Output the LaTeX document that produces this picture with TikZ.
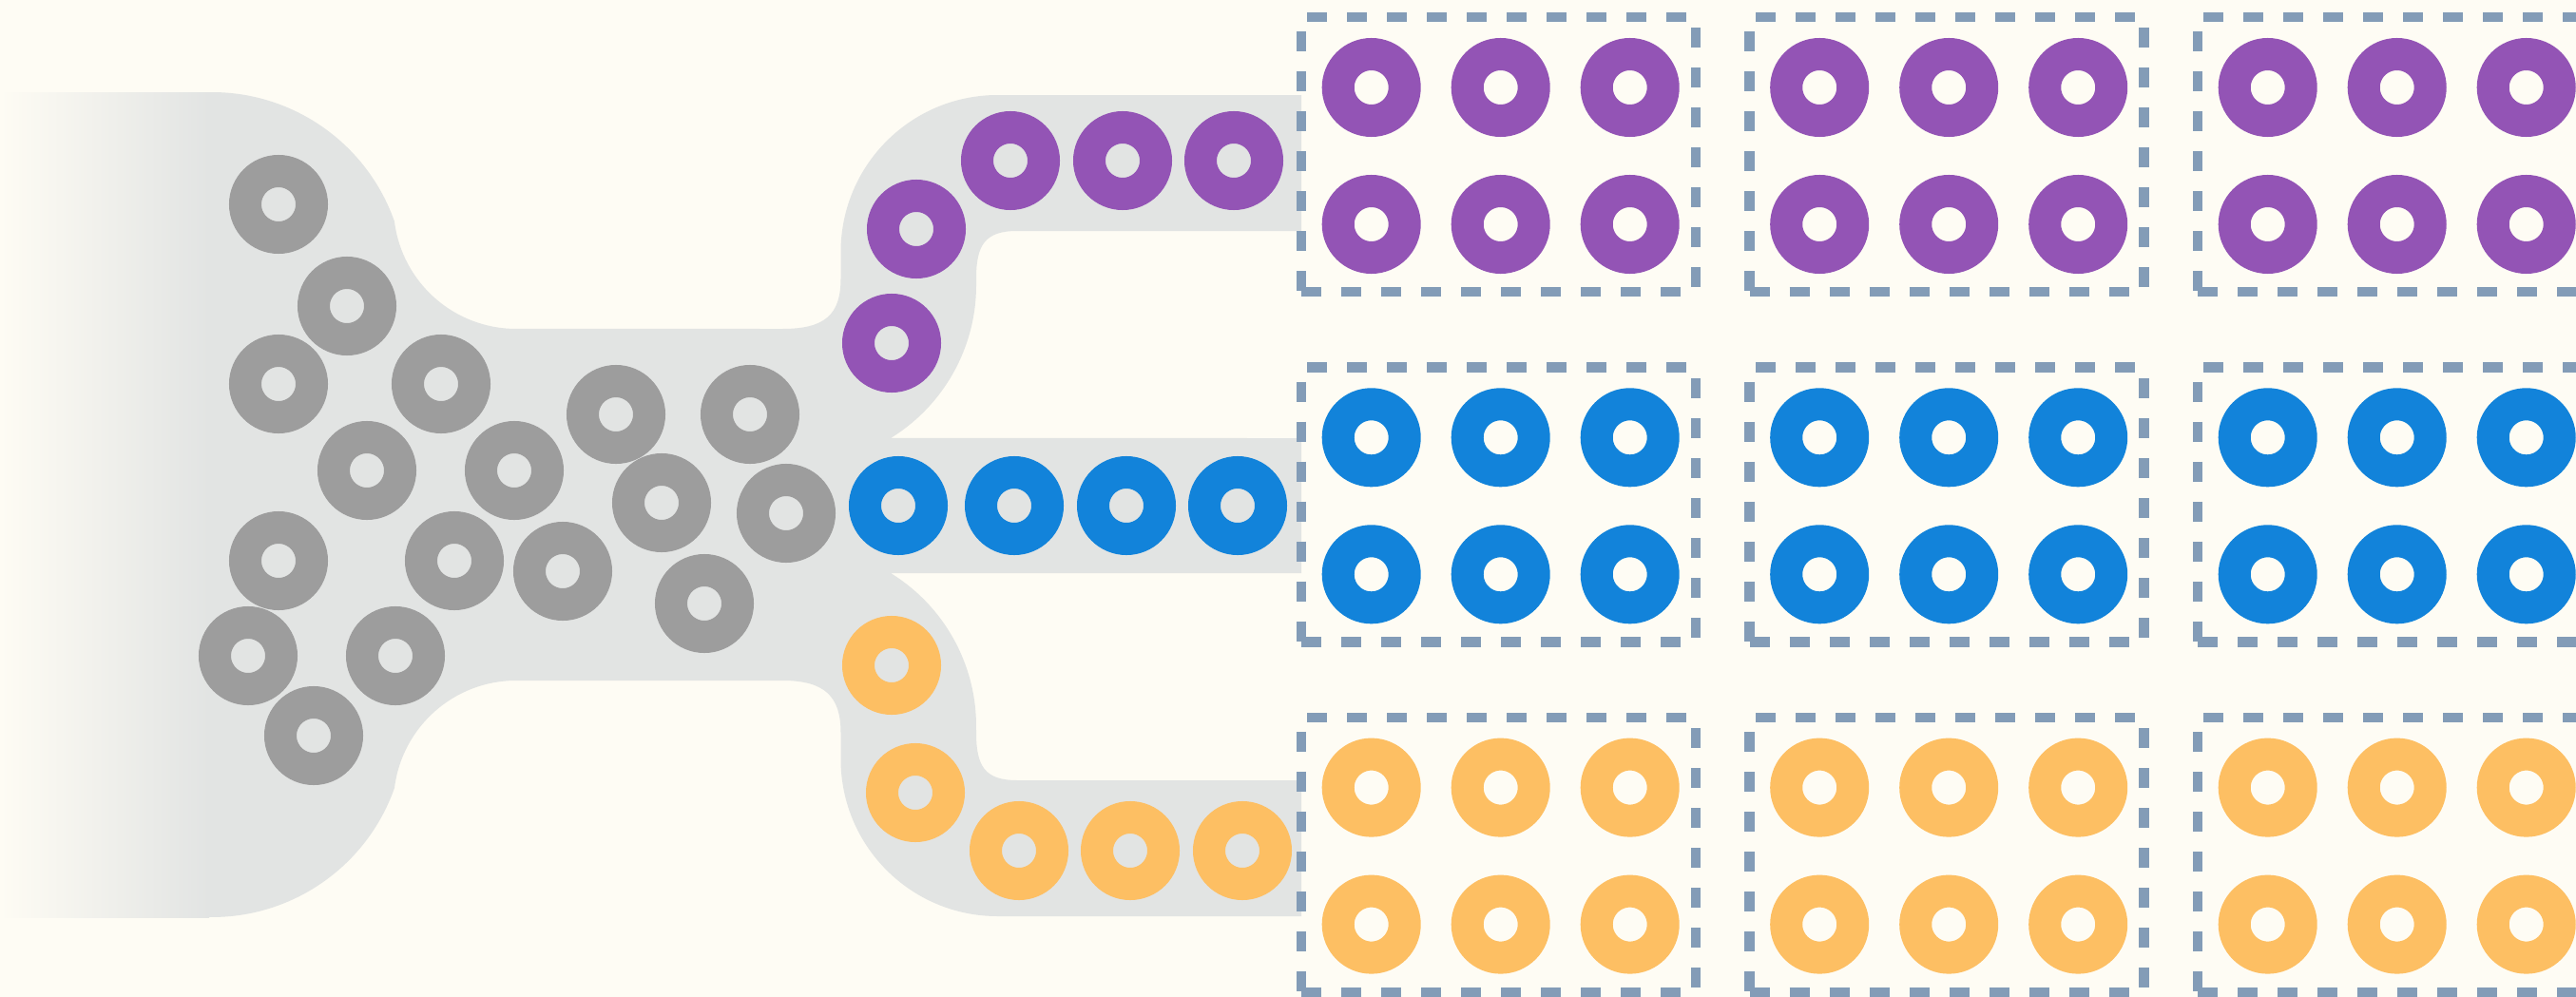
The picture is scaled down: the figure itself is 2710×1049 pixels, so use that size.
\documentclass[tikz,border=0pt]{standalone}
\definecolor{bgc}{HTML}{FEFCF4}
\definecolor{chan}{HTML}{E2E4E3}
\definecolor{cgray}{HTML}{9D9D9D}
\definecolor{cpurp}{HTML}{9354B5}
\definecolor{cblue}{HTML}{1283DA}
\definecolor{corange}{HTML}{FDBF63}
\definecolor{dashc}{HTML}{839CB7}
\tikzset{
  ring/.style={circle, draw=#1, line width=34pt, minimum size=70pt, inner sep=0pt},
  bbox/.style={draw=dashc, line width=10.5pt, dash pattern=on 21pt off 21pt,
               minimum width=415pt, minimum height=289pt, inner sep=0pt}
}
\begin{document}
\begin{tikzpicture}[x=1pt,y=-1pt]
\useasboundingbox (0,0) rectangle (2710,1049);
\fill[bgc] (0,0) rectangle (2710,1049);
% funnel and channels
\fill[chan] (0,97) -- (223,97)
  arc[start angle=-90, end angle=-19.4, radius=203.5]
  arc[start angle=172.9, end angle=90, radius=129]
  -- (823,346) .. controls (868,346) and (884.5,331) .. (884.5,293)
  -- (884.5,265)
  arc[start angle=180, end angle=270, radius=165]
  -- (1369,100) -- (1369,243) -- (1070,243)
  .. controls (1036,243) and (1027,258) .. (1027,293)
  -- (1027,300)
  arc[start angle=0, end angle=58.4, radius=189]
  -- (1369,461) -- (1369,603) -- (937,603)
  arc[start angle=-58.4, end angle=0, radius=189]
  -- (1027,771) .. controls (1027,806) and (1036,821) .. (1070,821)
  -- (1369,821) -- (1369,964) -- (1049.5,964)
  arc[start angle=90, end angle=180, radius=165]
  -- (884.5,771) .. controls (884.5,733) and (868,716) .. (823,716)
  -- (543,716)
  arc[start angle=-90, end angle=-172.9, radius=129]
  arc[start angle=19.4, end angle=90, radius=203.5]
  -- (0,965) -- cycle;
\shade[left color=bgc, right color=chan] (0,97) rectangle (220,965);
% gray donuts in the funnel
\foreach \n/\x/\y in {1/293/215, 2/365/322, 3/293/404, 4/464/404, 5/386/495,
    6/541/495, 7/648/436, 8/789/436, 9/696/529, 10/827/540, 11/293/590,
    12/478/590, 13/592/601, 14/741/635, 15/261/690, 16/416/690, 17/330/774}
  \node[ring=cgray] (g\n) at (\x,\y) {};
% purple channel
\foreach \n/\x/\y in {1/938/361, 2/964/241, 3/1063/169, 4/1181/169, 5/1298/169}
  \node[ring=cpurp] (p\n) at (\x,\y) {};
% blue channel
\foreach \n/\x in {1/945, 2/1067, 3/1185, 4/1302}
  \node[ring=cblue] (b\n) at (\x,532) {};
% orange channel
\foreach \n/\x/\y in {1/938/700, 2/963/834, 3/1072/895, 4/1189/895, 5/1307/895}
  \node[ring=corange] (o\n) at (\x,\y) {};
% boxes with sorted donuts
\foreach \k in {0,1,2}{
  \foreach \j/\col in {0/cpurp,1/cblue,2/corange}{
    \node[bbox] (box\k\j) at ({1576.5+471.5*\k},{162.7+368.3*\j}) {};
    \foreach \i in {0,1,2}{
      \foreach \r in {0,1}{
        \node[ring=\col] (d\k\j\i\r) at ({1442.7+471.5*\k+136*\i},{92+368.3*\j+144*\r}) {};
      }
    }
  }
}
\end{tikzpicture}
\end{document}
